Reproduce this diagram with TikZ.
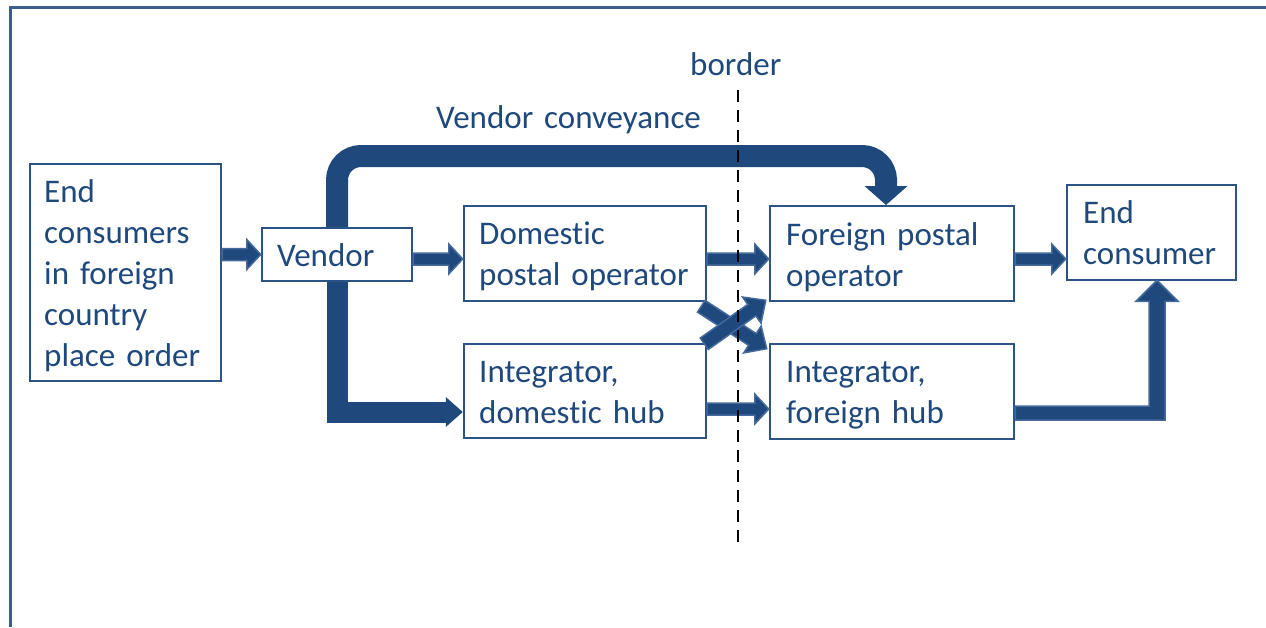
\documentclass[tikz,border=0pt]{standalone}
\usepackage{fontspec}
\setmainfont{Carlito}[Ligatures=NoCommon]
\usetikzlibrary{calc,arrows.meta,backgrounds}

\definecolor{textc}{HTML}{1F497D}
\definecolor{boxc}{HTML}{2B5385}
\definecolor{flowc}{HTML}{1F497D}
\definecolor{flowedge}{HTML}{45699B}
\definecolor{framec}{HTML}{3A5F8F}

\tikzset{
  box/.style={draw=boxc, line width=2.5pt, fill=white, rectangle, inner sep=0pt},
  lbl/.style={font=\fontsize{33}{41}\selectfont, text=textc, inner sep=0pt,
              anchor=base west, align=left, text width=#1},
  lbl/.default=300pt,
  flowshape/.style={fill=flowc, draw=flowedge, line width=1.5pt, line join=miter},
  bigflow/.style={draw=flowc, line width=#1, line join=miter},
  dashedborder/.style={draw=black, line width=2.5pt, dash pattern=on 12pt off 8pt},
  frameline/.style={draw=framec, line width=3pt, line join=miter},
}

% block arrow: [options]{from}{to}{shaft half-width}{head half-width}{head length}
\newcommand\flowarrow[6][]{%
  \draw[flowshape,#1] let \p1=(#2), \p2=(#3),
      \n1={atan2(\y2-\y1,\x2-\x1)},
      \n2={veclen(\x2-\x1,\y2-\y1)-#6} in
    ($(\p1)+(\n1+90:#4pt)$)
    -- ($(\p1)+(\n1:\n2)+(\n1+90:#4pt)$)
    -- ($(\p1)+(\n1:\n2)+(\n1+90:#5pt)$)
    -- (\p2)
    -- ($(\p1)+(\n1:\n2)+(\n1-90:#5pt)$)
    -- ($(\p1)+(\n1:\n2)+(\n1-90:#4pt)$)
    -- ($(\p1)+(\n1-90:#4pt)$) -- cycle;}

\begin{document}
\begin{tikzpicture}[x=1pt, y=-1pt]
\useasboundingbox (0,0) rectangle (1266,627);

% boxes
\node[box, minimum width=191pt, minimum height=217pt] (ord) at (125.5,272.5) {};
\node[box, minimum width=150pt, minimum height=53pt]  (vendor) at (337,254.5) {};
\node[box, minimum width=242pt, minimum height=95pt]  (dpo) at (585,253.5) {};
\node[box, minimum width=242pt, minimum height=94pt]  (idh) at (585,391) {};
\node[box, minimum width=244pt, minimum height=95pt]  (fpo) at (892,253.5) {};
\node[box, minimum width=244pt, minimum height=95pt]  (ifh) at (892,391.5) {};
\node[box, minimum width=169pt, minimum height=95pt]  (ec) at (1151.5,232.5) {};

% box texts
\node[lbl] (ord-t) at (44,202) {End\\consumers\\in foreign\\country\\place order};
\node[lbl] (vendor-t) at (277,266) {Vendor};
\node[lbl] (dpo-t) at (479,244) {Domestic\\postal operator};
\node[lbl] (idh-t) at (479,382) {Integrator,\\domestic hub};
\node[lbl] (fpo-t) at (786,245) {Foreign postal\\operator};
\node[lbl] (ifh-t) at (786,382) {Integrator,\\foreign hub};
\node[lbl] (ec-t) at (1083,223) {End\\consumer};

% free labels
\node[lbl] (conv) at (436,128) {Vendor conveyance};
\node[lbl] (bord) at (690,75) {border};

% helper rows and turning points
\coordinate (ctop) at (0,156);
\coordinate (cbot) at (0,412);
\coordinate (row1) at (0,259);
\coordinate (row2) at (0,409);
\coordinate (row3) at (0,413);
\coordinate (vtip) at (886,205);
\coordinate (ect) at ($(ec.south)+(5.5,-1)$);
\coordinate (btop) at (738,90);
\coordinate (bbot) at (738,545);

\begin{scope}[on background layer]
  % frame
  \draw[frameline] (10,627) -- (10,7) -- (1266,7);
  % vendor conveyance and integrator trunk
  \draw[bigflow=22pt, rounded corners=24pt,
        -{Triangle[width=43pt,length=19pt,line width=0pt]}]
    (vendor.north) |- (ctop -| vtip) -- (vtip);
  \draw[bigflow=21pt, -{Triangle[width=30pt,length=17pt,line width=0pt]}]
    (vendor.south) |- (idh.west |- cbot);
\end{scope}

% straight flows
\flowarrow{ord.east |- vendor.west}{vendor.west}{6}{15}{14}
\flowarrow{vendor.east |- row1}{dpo.west |- row1}{6}{15}{14}
\flowarrow{dpo.east |- row1}{fpo.west |- row1}{6}{15}{14}
\flowarrow{fpo.east |- row1}{ec.west |- row1}{6}{15}{14}
\flowarrow{idh.east |- row2}{ifh.west |- row2}{6}{15}{14}

% crossing flows
\flowarrow{$(dpo.south east)+(-6,4)$}{$(ifh.north west)+(-2,6)$}{7}{16}{17}
\flowarrow{$(idh.north east)+(-3,1)$}{$(fpo.south west)+(-3,-2)$}{7}{16}{17}

% foreign hub to end consumer
\draw[flowshape]
  ($(ifh.east |- row3)+(0,-7)$) -- ($(ect |- row3)+(-8,-7)$)
  -- ($(ect)+(-8,21)$) -- ($(ect)+(-21,21)$) -- (ect)
  -- ($(ect)+(21,21)$) -- ($(ect)+(8,21)$)
  -- ($(ect |- row3)+(8,7)$) -- ($(ifh.east |- row3)+(0,7)$) -- cycle;

% border line
\draw[dashedborder] (btop) -- (bbot);
\end{tikzpicture}
\end{document}
